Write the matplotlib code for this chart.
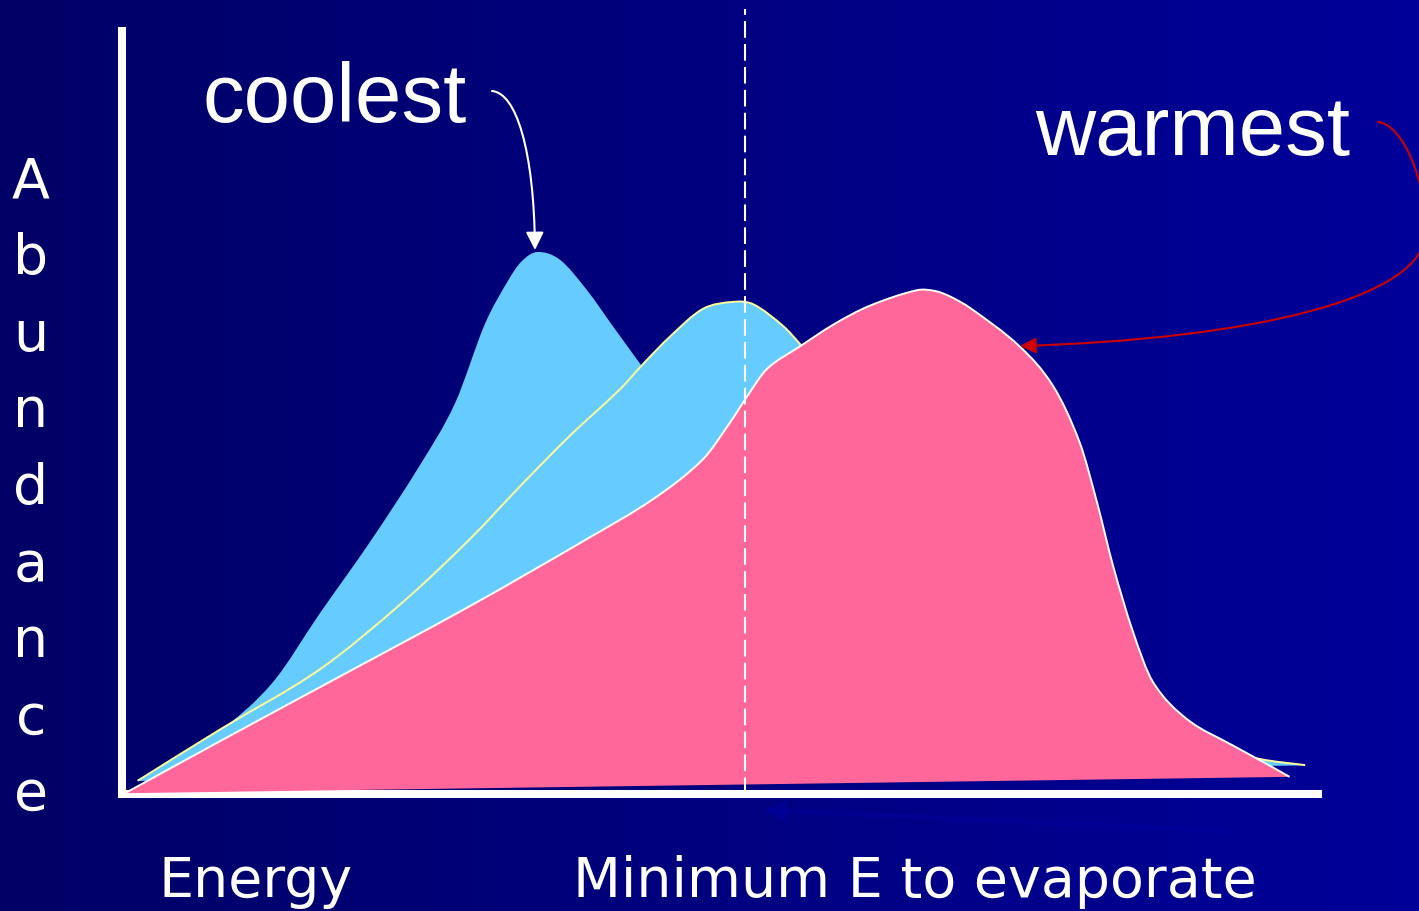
import numpy as np
import matplotlib
matplotlib.use("Agg")
import matplotlib.pyplot as plt
from matplotlib.path import Path
from matplotlib.patches import PathPatch, FancyArrowPatch
from matplotlib.colors import LinearSegmentedColormap

# ---- data (energy / abundance, arbitrary units) ----
cool_E = [1.3, 8.2, 12.5, 16.5, 20.7, 24.8, 27.75, 30.25, 32.2, 33.3, 34.6, 36.5, 38.75,
          40.9, 43.3, 46.5, 52.3, 60.7, 69.0, 77.3, 85.7, 94.0, 98.6]
cool_A = [1.7, 8.2, 14.2, 23.2, 32.4, 42.1, 50.1, 60.3, 65.9, 68.3, 69.5, 68.5, 64.6,
          60.0, 54.9, 48.1, 40.4, 30.1, 19.9, 12.2, 7.1, 4.2, 3.7]

mid_E = [1.3, 8.2, 16.5, 23.4, 29.0, 33.2, 37.3, 41.5, 43.4, 45.7, 48.4, 50.9, 52.6,
         55.1, 56.5, 59.0, 64.8, 73.2, 81.5, 89.8, 94.8, 98.6]
mid_A = [1.7, 8.3, 16.0, 24.6, 32.7, 39.5, 45.9, 51.9, 55.1, 58.7, 62.2, 63.1, 62.8,
         60.0, 57.7, 53.2, 44.2, 30.1, 17.3, 6.5, 4.5, 3.7]

warm_E = [0.25, 8.2, 16.5, 29.0, 38.75, 44.25, 48.4, 50.7, 52.1, 53.75, 56.5, 59.4, 62.3,
          66.25, 67.75, 69.0, 70.7, 74.8, 77.6, 79.8, 81.25, 82.6, 84.25, 85.9, 88.75,
          92.6, 95.1, 97.3]
warm_A = [0.1, 6.8, 13.7, 24.1, 32.7, 37.8, 42.9, 47.7, 51.0, 54.5, 57.4, 60.3, 62.6,
          64.6, 64.5, 63.8, 62.3, 57.4, 52.3, 45.1, 37.4, 29.2, 20.8, 14.4, 9.6,
          6.2, 4.1, 2.2]

evap_E = 51.9
y_letters = list("Abundance")

BLUE = "#66CCFF"
PINK = "#FF6699"
YELLOW = "#FFFF99"


def smooth_path(xs, ys, closed=False):
    # cubic hermite through the read points (slopes from neighbours),
    # handed to matplotlib as bezier segments
    x = np.asarray(xs, float)
    y = np.asarray(ys, float)
    n = len(x)
    m = np.empty(n)
    m[0] = (y[1] - y[0]) / (x[1] - x[0])
    m[-1] = (y[-1] - y[-2]) / (x[-1] - x[-2])
    for i in range(1, n - 1):
        m[i] = (y[i + 1] - y[i - 1]) / (x[i + 1] - x[i - 1])
    verts = [(x[0], y[0])]
    codes = [Path.MOVETO]
    for i in range(n - 1):
        h = (x[i + 1] - x[i]) / 3.0
        verts += [(x[i] + h, y[i] + m[i] * h),
                  (x[i + 1] - h, y[i + 1] - m[i + 1] * h),
                  (x[i + 1], y[i + 1])]
        codes += [Path.CURVE4] * 3
    if closed:
        verts.append((x[0], y[0]))
        codes.append(Path.CLOSEPOLY)
    return Path(verts, codes)


W, H = 1419, 912
fig = plt.figure(figsize=(W / 100, H / 100), dpi=100)

# background gradient
bg = fig.add_axes([0, 0, 1, 1], zorder=0)
cmap = LinearSegmentedColormap.from_list("slide", ["#000066", "#000099"])
bg.imshow(np.linspace(0, 1, 256)[None, :], aspect="auto", cmap=cmap, extent=[0, 1, 0, 1])
bg.set_axis_off()

# chart axes: 12 px per energy unit, 7.8 px per abundance unit
ax = fig.add_axes([122 / W, 117 / H, 1206 / W, 790 / H], zorder=1)
ax.set_xlim(0, 100.5)
ax.set_ylim(0, 101.3)
ax.patch.set_alpha(0)
ax.set_xticks([])
ax.set_yticks([])
for side in ["top", "right"]:
    ax.spines[side].set_visible(False)
for side in ["left", "bottom"]:
    ax.spines[side].set_color("white")
    ax.spines[side].set_linewidth(5.8)
    ax.spines[side].set_capstyle("butt")
ax.spines["left"].set_bounds(-0.5, 98.3)
ax.spines["bottom"].set_bounds(-0.35, 100.0)

ax.add_patch(PathPatch(smooth_path(cool_E, cool_A, True), fc=BLUE, ec="none", zorder=2))
ax.add_patch(PathPatch(smooth_path(mid_E, mid_A, True), fc=BLUE, ec="none", zorder=3))
ax.add_patch(PathPatch(smooth_path(mid_E, mid_A), fill=False, ec=YELLOW, lw=1.4, zorder=4))
ax.add_patch(PathPatch(smooth_path(warm_E, warm_A, True), fc=PINK, ec="none", zorder=5))
ax.add_patch(PathPatch(smooth_path(warm_E, warm_A), fill=False, ec="white", lw=1.4, zorder=6))

ax.vlines(evap_E, 0, 100.6, colors="white", lw=1.5, linestyles=(0, (8, 3)), zorder=7)

# overlay in slide pixels for labels and callouts
ov = fig.add_axes([0, 0, 1, 1], zorder=2)
ov.set_xlim(0, W)
ov.set_ylim(H, 0)
ov.set_axis_off()
ov.patch.set_alpha(0)

ov.text(203, 122, "coolest", color="white", fontsize=60, family="Liberation Sans",
        ha="left", va="baseline")
ov.text(1035, 155, "warmest", color="white", fontsize=60, family="Liberation Sans",
        ha="left", va="baseline")
ov.text(158, 897, "Energy", color="white", fontsize=40, family="DejaVu Sans",
        ha="left", va="baseline")
ov.text(573, 897, "Minimum E to evaporate", color="white", fontsize=40, family="DejaVu Sans",
        ha="left", va="baseline")
for i, ch in enumerate(y_letters):
    ov.text(31, 198 + i * 76.5, ch, color="white", fontsize=40, family="DejaVu Sans",
            ha="center", va="baseline")

cool_arrow = Path([(492, 92), (516, 94), (534, 150), (535, 251)],
                  [Path.MOVETO, Path.CURVE4, Path.CURVE4, Path.CURVE4])
ov.add_patch(FancyArrowPatch(path=cool_arrow, arrowstyle="-|>", mutation_scale=27,
                             color="white", lw=1.5))

warm_arrow = Path([(1378, 123), (1402, 125), (1426, 180), (1426, 232),
                   (1426, 300), (1250, 340), (1020, 347)],
                  [Path.MOVETO, Path.CURVE4, Path.CURVE4, Path.CURVE4,
                   Path.CURVE4, Path.CURVE4, Path.CURVE4])
ov.add_patch(FancyArrowPatch(path=warm_arrow, arrowstyle="-|>", mutation_scale=24,
                             color="#CC0000", lw=1.5, clip_on=False))

ov.add_patch(FancyArrowPatch((1230, 832), (763, 811), arrowstyle="-|>", mutation_scale=30,
                             color="#0000A6", lw=3.5, alpha=0.35, shrinkA=0, shrinkB=0))

fig.savefig("out.png", dpi=100)
